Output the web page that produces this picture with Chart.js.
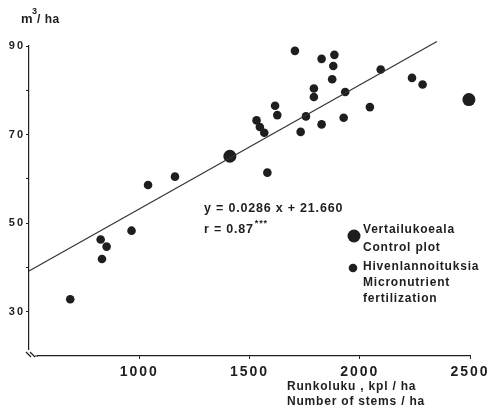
<!DOCTYPE html>
<html>
<head>
<meta charset="utf-8">
<script src="https://cdn.jsdelivr.net/npm/chart.js@4"></script>
<style>
  body { margin: 0; background: #fff; }
  canvas { display: block; }
</style>
</head>
<body>
<canvas id="myChart" width="492" height="408"></canvas>
<script>
// stems per ha vs m3/ha
const stemsFert = [687, 825, 831, 852, 965, 1040, 1162, 1532, 1547, 1567, 1581, 1616, 1626, 1706, 1732,
    1756, 1792, 1792, 1827, 1827, 1852, 1885, 1880, 1875, 1934, 1927, 2046, 2095, 2237, 2285];
const volumeFert = [32.8, 46.3, 41.9, 44.7, 48.3, 58.6, 60.5, 73.2, 71.7, 70.4, 61.4, 76.5, 74.4, 88.9, 70.6,
    74.1, 80.4, 78.5, 87.1, 72.3, 91.1, 88.0, 85.5, 82.5, 79.6, 73.8, 76.2, 84.7, 82.8, 81.3];
const stemsControl = [1411, 2495];
const volumeControl = [65.1, 77.9];
const lineStems = [500, 2350];
const lineVolume = [39.2, 91.0];

const xTickValues = [1000, 1500, 2000, 2500];
const yTickValues = [30, 40, 50, 60, 70, 80, 90];
const yTickLabels = [30, 50, 70, 90];

const equationText = 'y = 0.0286 x + 21.660';
const rText = 'r = 0.87';
const controlLabel = ['Vertailukoeala', 'Control plot'];
const fertLabel = ['Hivenlannoituksia', 'Micronutrient', 'fertilization'];
const xTitle = ['Runkoluku , kpl / ha', 'Number of stems / ha'];

const ink = '#1e1e1e';
const family = '"Liberation Sans", Arial, sans-serif';

function pairs(xs, ys) {
    return xs.map((x, i) => ({ x: x, y: ys[i] }));
}

const extras = {
    id: 'extras',
    beforeDraw(chart) {
        chart.ctx.letterSpacing = '2px';
    },
    afterDraw(chart) {
        const ctx = chart.ctx;
        const a = chart.chartArea;
        ctx.save();
        ctx.fillStyle = ink;
        ctx.strokeStyle = ink;
        ctx.textBaseline = 'alphabetic';
        ctx.textAlign = 'left';
        ctx.letterSpacing = '0.5px';

        // unit on top of the y axis
        ctx.font = 'bold 13px ' + family;
        ctx.fillText('m', 21, 23);
        ctx.font = 'bold 9px ' + family;
        ctx.fillText('3', 32, 14);
        ctx.font = 'bold 12px ' + family;
        ctx.fillText('/ ha', 37, 23);

        // regression text
        ctx.letterSpacing = '0.8px';
        ctx.font = 'bold 12.5px ' + family;
        ctx.fillText(equationText, 204, 212);
        ctx.fillText(rText, 204, 233);
        let w = ctx.measureText(rText).width;
        ctx.font = 'bold 9px ' + family;
        ctx.fillText('***', 204 + w + 1, 226);

        // legend
        ctx.font = 'bold 12px ' + family;
        ctx.beginPath();
        ctx.arc(354, 236, 6.5, 0, Math.PI * 2);
        ctx.fill();
        ctx.fillText(controlLabel[0], 363, 233);
        ctx.fillText(controlLabel[1], 363, 251);
        ctx.beginPath();
        ctx.arc(353, 268, 4.3, 0, Math.PI * 2);
        ctx.fill();
        fertLabel.forEach((t, i) => ctx.fillText(t, 363, 270 + i * 16));

        // x axis title
        xTitle.forEach((t, i) => ctx.fillText(t, 287, 390 + i * 15));

        // axis break at the corner
        ctx.fillStyle = '#fff';
        ctx.fillRect(a.left - 1, a.bottom - 6, 9, 8);
        ctx.lineWidth = 1.2;
        ctx.beginPath();
        ctx.moveTo(a.left - 3, a.bottom - 4);
        ctx.lineTo(a.left + 2, a.bottom + 1);
        ctx.moveTo(a.left + 1, a.bottom - 4);
        ctx.lineTo(a.left + 6, a.bottom + 1);
        ctx.moveTo(a.left + 6, a.bottom);
        ctx.lineTo(a.left + 9, a.bottom);
        ctx.stroke();
        ctx.restore();
    }
};

new Chart(document.getElementById('myChart').getContext('2d'), {
    type: 'scatter',
    data: {
        datasets: [
            { label: 'line', data: pairs(lineStems, lineVolume), showLine: true, pointRadius: 0,
              borderColor: '#333', borderWidth: 1.2, clip: false },
            { label: 'Control plot', data: pairs(stemsControl, volumeControl), pointRadius: 6.5,
              backgroundColor: ink, borderWidth: 0, clip: false },
            { label: 'Micronutrient fertilization', data: pairs(stemsFert, volumeFert), pointRadius: 4.3,
              backgroundColor: ink, borderWidth: 0, clip: false }
        ]
    },
    options: {
        responsive: false,
        animation: false,
        devicePixelRatio: 1,
        layout: { padding: { left: 0, right: 22, top: 46, bottom: 22 } },
        plugins: { legend: { display: false }, tooltip: { enabled: false } },
        scales: {
            x: {
                type: 'linear', min: 500, max: 2500,
                afterBuildTicks: s => { s.ticks = xTickValues.map(v => ({ value: v })); },
                afterFit: s => { s.height = 30; },
                grid: { drawOnChartArea: false, tickLength: 3, color: ink },
                border: { color: ink, width: 1.2 },
                ticks: {
                    color: ink, font: { family: family, size: 14, weight: 'bold' }, padding: 5,
                    maxRotation: 0, autoSkip: false, callback: v => String(v)
                }
            },
            y: {
                type: 'linear', min: 20, max: 90,
                afterBuildTicks: s => { s.ticks = yTickValues.map(v => ({ value: v })); },
                afterFit: s => { s.width = 29; },
                grid: { drawOnChartArea: false, tickLength: 3, color: ink },
                border: { color: ink, width: 1.2 },
                ticks: {
                    color: ink, font: { family: family, size: 11, weight: 'bold' }, padding: 1, autoSkip: false,
                    callback: v => yTickLabels.includes(v) ? String(v) : ''
                }
            }
        }
    },
    plugins: [extras]
});
</script>
</body>
</html>
